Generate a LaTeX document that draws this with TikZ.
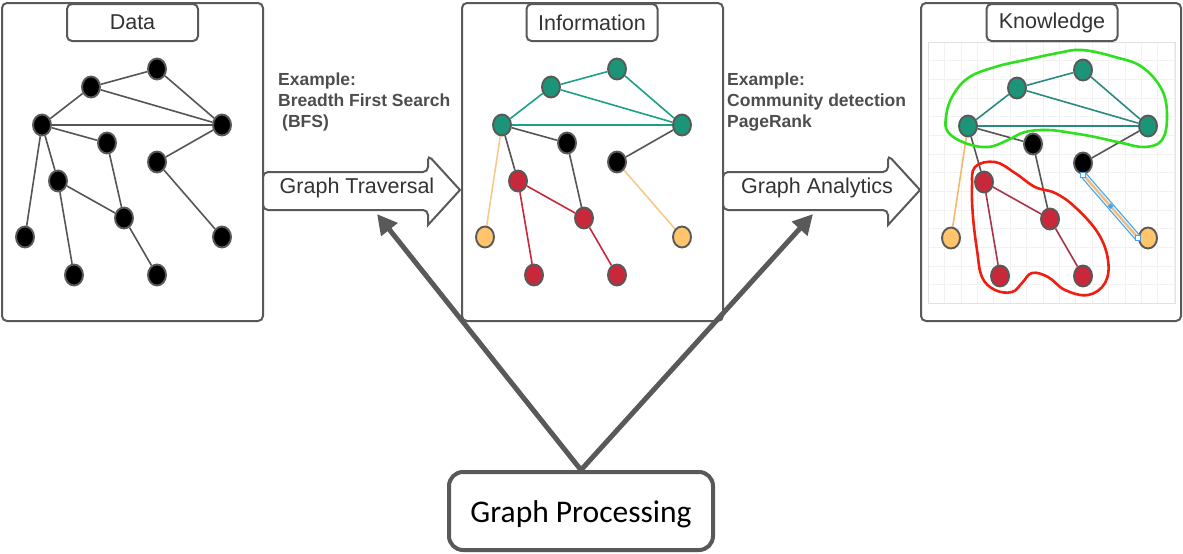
\documentclass[tikz,border=0pt]{standalone}
\usepackage{fontspec}
\setmainfont{Liberation Sans}
\newfontfamily\gpfont{Carlito}
\usetikzlibrary{shapes.geometric,arrows.meta,calc}
\pgfdeclarelayer{panels}
\pgfdeclarelayer{edges}
\pgfsetlayers{panels,edges,main}

\definecolor{frame}{HTML}{595959}
\definecolor{txt}{HTML}{333333}
\definecolor{exgray}{HTML}{4D4D4D}
\definecolor{gridc}{HTML}{F2F2F2}
\definecolor{gridb}{HTML}{E2E2E2}
\definecolor{tealN}{HTML}{1B9477}
\definecolor{tealE}{HTML}{1FA086}
\definecolor{tealK}{HTML}{2B8A80}
\definecolor{redN}{HTML}{C8283A}
\definecolor{redE}{HTML}{C8283A}
\definecolor{redK}{HTML}{A8344A}
\definecolor{orN}{HTML}{FFC46C}
\definecolor{orE}{HTML}{F9C98B}
\definecolor{orK}{HTML}{F5B86F}
\definecolor{grayE}{HTML}{555555}
\definecolor{blobG}{HTML}{2FE01E}
\definecolor{blobR}{HTML}{F01E10}
\definecolor{selB}{HTML}{4AA3E0}
\definecolor{selF}{HTML}{E2F1FB}

\tikzset{
  panel/.style={draw=frame, line width=2pt, rounded corners=5pt, fill=white, inner sep=0pt},
  titlebox/.style={draw=frame, line width=2pt, rounded corners=5pt, fill=white,
    minimum width=131pt, minimum height=37pt, inner sep=0pt,
    font=\fontsize{21.5}{24}\selectfont, text=txt},
  vtx/.style={ellipse, draw=frame, line width=1.9pt, minimum width=18pt, minimum height=21pt, inner sep=0pt},
  vb/.style={vtx, fill=black},
  vt/.style={vtx, fill=tealN},
  vr/.style={vtx, fill=redN},
  vo/.style={vtx, fill=orN},
  lnk/.style={line width=1.6pt, draw=grayE},
  gridline/.style={draw=gridc, line width=0.6pt},
  barrow/.style={draw=frame, line width=2pt, fill=white},
  arrowlabel/.style={font=\fontsize{21.5}{24}\selectfont, text=txt, inner sep=0pt},
  example/.style={font=\fontsize{17.5}{21}\selectfont\bfseries, text=exgray, align=left, inner sep=0pt},
  gpbox/.style={draw=frame, line width=4pt, rounded corners=14pt, fill=white,
    minimum width=264pt, minimum height=78pt, text height=26pt, text depth=4pt,
    font=\gpfont\fontsize{31.5}{36}\selectfont},
  varrow/.style={draw=frame, line width=5pt, line join=miter,
    {Triangle[length=20pt,width=20pt]}-{Triangle[length=20pt,width=20pt]}},
  blob/.style={line width=2.6pt},
}

\begin{document}
\begin{tikzpicture}[x=1pt,y=-1pt]
\useasboundingbox (0,0) rectangle (1183,554);

% ---------- panels, titles, grid ----------
\begin{pgfonlayer}{panels}
  \node[panel, minimum width=261pt, minimum height=318pt] (data) at (132.5,162) {};
  \node[panel, minimum width=261pt, minimum height=318pt] (info) at (592.5,162) {};
  \node[panel, minimum width=260pt, minimum height=318pt] (know) at (1051,162) {};
  \foreach \i in {0,...,15}
    \draw[gridline] ({928+16.4*\i},42) -- ({928+16.4*\i},303);
  \foreach \j in {0,...,14}
    \draw[gridline] (928,{42+18.65*\j}) -- (1175,{42+18.65*\j});
  \draw[gridb, line width=0.8pt] (928,42) rectangle (1175,303);
  \node[titlebox] (datat) at (132.5,22.5) {Data};
  \node[titlebox] (infot) at (592,22.5) {Information};
  \node[titlebox] (knowt) at (1052,22.5) {Knowledge};
\end{pgfonlayer}

% ---------- raw data graph ----------
\begin{scope}[name prefix=D-]
  \foreach \n/\x/\y in {a/157/69, b/91/87, c/42/125, d/222/125, e/107/143, f/157/162,
                        g/58/181, h/124/218, i/25/237, j/222/237, k/74/275, l/157/275}
    \node[vb] (\n) at (\x,\y) {};
  \begin{pgfonlayer}{edges}
    \draw[lnk] (a)--(b) (a)--(d) (b)--(d) (b)--(c) (c)--(d) (c)--(e) (c)--(g) (c)--(i)
               (e)--(h) (g)--(h) (g)--(k) (h)--(l) (d)--(f) (f)--(j);
  \end{pgfonlayer}
\end{scope}

% ---------- traversed graph ----------
\begin{scope}[shift={(460,0)}, name prefix=I-]
  \foreach \n/\x/\y/\s in {a/157/69/vt, b/91/87/vt, c/42/125/vt, d/222/125/vt, e/107/143/vb,
                           f/157/162/vb, g/58/181/vr, h/124/218/vr, i/25/237/vo, j/222/237/vo,
                           k/74/275/vr, l/157/275/vr}
    \node[\s] (\n) at (\x,\y) {};
  \begin{pgfonlayer}{edges}
    \draw[lnk, draw=tealE] (a)--(b) (a)--(d) (b)--(d) (b)--(c) (c)--(d);
    \draw[lnk] (c)--(e) (c)--(g) (e)--(h) (d)--(f);
    \draw[lnk, draw=orE] (c)--(i) (f)--(j);
    \draw[lnk, draw=redE] (g)--(h) (g)--(k) (h)--(l);
  \end{pgfonlayer}
\end{scope}

% ---------- analysed graph ----------
\begin{scope}[shift={(926,1)}, name prefix=K-]
  \foreach \n/\x/\y/\s in {a/157/69/vt, b/91/87/vt, c/42/125/vt, d/222/125/vt, e/107/143/vb,
                           f/157/162/vb, g/58/181/vr, h/124/218/vr, i/25/237/vo, j/222/237/vo,
                           k/74/275/vr, l/157/275/vr}
    \node[\s] (\n) at (\x,\y) {};
  \begin{pgfonlayer}{edges}
    \draw[lnk, draw=tealK] (a)--(b) (a)--(d) (b)--(d) (b)--(c) (c)--(d);
    \draw[lnk] (c)--(e) (c)--(g) (e)--(h) (d)--(f);
    \draw[lnk, draw=orK] (c)--(i);
    \draw[lnk, draw=redK] (g)--(h) (g)--(k) (h)--(l);
  \end{pgfonlayer}
  % selected edge with its handles
  \draw[selB, line width=7pt] (f.south) -- (j.west);
  \draw[selF, line width=4.6pt] (f.south) -- (j.west);
  \draw[orK, line width=2pt] (f.south) -- (j.west);
  \foreach \p in {f.south, j.west}
    \draw[selB, fill=white, line width=0.8pt] ($(\p)+(-2.5,-2.5)$) rectangle ($(\p)+(2.5,2.5)$);
  \fill[selB] ($(f.south)!0.5!(j.west)$) +(0,-2.8) -- +(2.8,0) -- +(0,2.8) -- +(-2.8,0) -- cycle;
\end{scope}

% ---------- community outlines ----------
\draw[blob, blobG] plot[smooth cycle, tension=0.65] coordinates {
  (946,117) (952,97) (968,78) (995,67) (1025,60) (1058,53) (1082,50) (1115,57)
  (1142,67) (1162,90) (1167,117) (1162,140) (1145,147) (1122,143) (1095,137)
  (1072,133) (1048,130) (1025,132) (1008,140) (988,147) (965,143) (948,132)};
\draw[blob, blobR] plot[smooth cycle, tension=0.65] coordinates {
  (972,187) (975,167) (995,162) (1015,173) (1035,187) (1055,193) (1075,207)
  (1098,233) (1108,260) (1105,283) (1088,295) (1065,290) (1048,277) (1032,273)
  (1022,283) (1012,292) (995,290) (982,277) (977,250) (973,217)};

% ---------- block arrows between stages ----------
\draw[barrow] (263,191) [rounded corners=5pt] -- (263,172) -- (428,172) -- (428,155)
  [sharp corners] -- (460,190) -- (428,225) [rounded corners=5pt] -- (428,210) -- (263,210) -- cycle;
\node[arrowlabel, anchor=base] (trav) at (357,193.5) {Graph Traversal};
\draw[barrow] (723,191) [rounded corners=5pt] -- (723,172) -- (888,172) -- (888,155)
  [sharp corners] -- (920,190) -- (888,225) [rounded corners=5pt] -- (888,210) -- (723,210) -- cycle;
\node[arrowlabel, anchor=base] (anal) at (817,193.5) {Graph Analytics};

% ---------- examples ----------
\node[example, anchor=north west] (ex1) at (278,72.5)
  {Example:\\Breadth First Search\\\hspace{4pt}(BFS)};
\node[example, anchor=north west] (ex2) at (727,72.5)
  {Example:\\Community detection\\PageRank};

% ---------- graph processing ----------
\node[gpbox] (gp) at (581,511) {Graph Processing};
\coordinate (tipL) at (377,214);
\coordinate (tipR) at (813,214);
\draw[varrow] (tipL) -- (gp.north) -- (tipR);
\end{tikzpicture}
\end{document}
